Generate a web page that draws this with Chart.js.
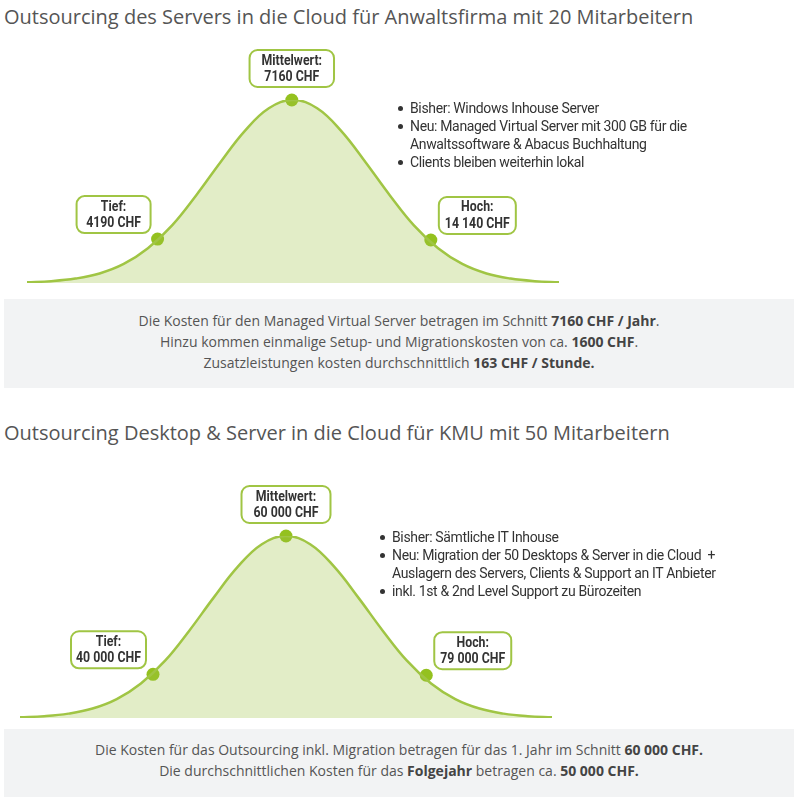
<!DOCTYPE html>
<html lang="de">
<head>
<meta charset="UTF-8">
<title>Outsourcing Kosten</title>
<style>
    body { margin: 0; width: 800px; height: 806px; position: relative; background: #fff; font-family: "Open Sans", sans-serif; }
    .title { position: absolute; left: 4px; font-size: 20px; color: #555; white-space: nowrap; }
    .chartBox { position: absolute; left: 0; width: 570px; height: 260px; }
    .list { position: absolute; margin: 0; padding: 0; list-style: none; font-family: Roboto, sans-serif; font-size: 14px; letter-spacing: -0.35px; color: #333; line-height: 18px; }
    .list li { position: relative; padding-left: 12px; }
    .list li::before { content: ""; position: absolute; left: 0; top: 7px; width: 5px; height: 5px; border-radius: 50%; background: #333; }
    .info { position: absolute; left: 4px; width: 790px; background: #f2f3f4; text-align: center; color: #555; font-size: 14px; line-height: 21px; }
    .info b { color: #444; font-weight: 700; }
</style>
</head>
<body>
<div class="title" style="top:3px">Outsourcing des Servers in die Cloud für Anwaltsfirma mit 20 Mitarbeitern</div>
<div class="chartBox" style="top:40px"><canvas id="chart1"></canvas></div>
<ul class="list" style="left:398px;top:99px;width:300px">
    <li>Bisher: Windows Inhouse Server</li>
    <li>Neu: Managed Virtual Server mit 300 GB für die Anwaltssoftware &amp; Abacus Buchhaltung</li>
    <li>Clients bleiben weiterhin lokal</li>
</ul>
<div class="info" style="top:299px;height:89px">
    <div style="padding-top:11px">Die Kosten für den Managed Virtual Server betragen im Schnitt <b>7160 CHF / Jahr</b>.<br>
    Hinzu kommen einmalige Setup- und Migrationskosten von ca. <b>1600 CHF</b>.<br>
    Zusatzleistungen kosten durchschnittlich <b>163 CHF / Stunde.</b></div>
</div>

<div class="title" style="top:419px">Outsourcing Desktop &amp; Server in die Cloud für KMU mit 50 Mitarbeitern</div>
<div class="chartBox" style="top:470px"><canvas id="chart2"></canvas></div>
<ul class="list" style="left:380px;top:528px;width:360px">
    <li>Bisher: Sämtliche IT Inhouse</li>
    <li>Neu: Migration der 50 Desktops &amp; Server in die Cloud&nbsp; + Auslagern des Servers, Clients &amp; Support an IT Anbieter</li>
    <li>inkl. 1st &amp; 2nd Level Support zu Bürozeiten</li>
</ul>
<div class="info" style="top:729px;height:68px">
    <div style="padding-top:10px">Die Kosten für das Outsourcing inkl. Migration betragen für das 1. Jahr im Schnitt <b>60 000 CHF.</b><br>
    Die durchschnittlichen Kosten für das <b>Folgejahr</b> betragen ca. <b>50 000 CHF.</b></div>
</div>

<script src="https://cdn.jsdelivr.net/npm/chart.js"></script>
<script>
// curve steps (position along the distribution) and heights in % of the peak
const steps = [-11, -10, -9, -8, -7, -6, -5, -4, -3, -2, -1, 0, 1, 2, 3, 4, 5, 6, 7, 8, 9, 10, 11];
const curve1 = [0.4, 1, 2.4, 5.2, 10.4, 19, 31.5, 48, 66, 83, 95.5, 100, 95.5, 83, 66, 48, 31.5, 19, 10.4, 5.2, 2.4, 1, 0.4];
const curve2 = [0.4, 1, 2.4, 5.2, 10.4, 19, 31.5, 48, 66, 83, 95.5, 100, 95.5, 83, 66, 48, 31.5, 19, 10.4, 5.2, 2.4, 1, 0.4];

// marked points: Tief, Mittelwert, Hoch
const markX1 = [-5.6, -0.05, 5.7];
const markY1 = [24, 100, 23.5];
const markText1 = [['Tief:', '4190 CHF'], ['Mittelwert:', '7160 CHF'], ['Hoch:', '14 140 CHF']];

const markX2 = [-5.5, 0, 5.8];
const markY2 = [24, 100, 23.5];
const markText2 = [['Tief:', '40 000 CHF'], ['Mittelwert:', '60 000 CHF'], ['Hoch:', '79 000 CHF']];

const green = '#a0c544';
const dotGreen = '#94c11f';

// draws the rounded label boxes next to the marked points
const boxLabels = {
    id: 'boxLabels',
    afterDatasetsDraw(chart, args, opts) {
        const ctx = chart.ctx;
        const meta = chart.getDatasetMeta(1);
        meta.data.forEach((pt, i) => {
            const lines = opts.texts[i];
            ctx.save();
            ctx.font = 'bold 14px Roboto';
            const sx = 0.88;
            const tw = Math.max(...lines.map(l => ctx.measureText(l).width)) * sx;
            let w, h = 39, x, y;
            if (i === 1) {
                w = tw + 26;
                x = pt.x - w / 2;
                y = pt.y - 12 - h;
            } else if (i === 0) {
                w = Math.max(tw + 12, 76);
                x = pt.x - 6 - w;
                y = pt.y - 5 - h;
            } else {
                w = Math.max(tw + 14, 78);
                x = pt.x + 7;
                y = pt.y - 5 - h;
            }
            ctx.beginPath();
            ctx.roundRect(x + 1, y + 1, w - 2, h - 2, 8);
            ctx.fillStyle = '#fff';
            ctx.fill();
            ctx.lineWidth = 2;
            ctx.strokeStyle = green;
            ctx.stroke();
            ctx.fillStyle = '#333';
            ctx.textAlign = 'center';
            ctx.textBaseline = 'middle';
            ctx.translate(x + w / 2, y);
            ctx.scale(sx, 1);
            ctx.fillText(lines[0], 0, 12);
            ctx.fillText(lines[1], 0, 28.5);
            ctx.restore();
        });
    }
};

function makeChart(id, curve, mx, my, texts, pad) {
    return new Chart(document.getElementById(id), {
        type: 'line',
        data: {
            datasets: [{
                data: steps.map((s, i) => ({ x: s, y: curve[i] })),
                borderColor: green,
                borderWidth: 2.5,
                backgroundColor: 'rgba(160,197,68,0.3)',
                fill: 'origin',
                tension: 0.4,
                pointRadius: 0
            }, {
                type: 'scatter',
                data: mx.map((x, i) => ({ x: x, y: my[i] })),
                pointRadius: 6.5,
                pointBackgroundColor: dotGreen,
                pointBorderWidth: 0,
                clip: false
            }]
        },
        options: {
            responsive: true,
            maintainAspectRatio: false,
            animation: false,
            layout: { padding: pad },
            scales: {
                x: { type: 'linear', min: -11, max: 11, display: false },
                y: { min: 0, max: 100, display: false }
            },
            plugins: {
                legend: { display: false },
                tooltip: { enabled: false },
                boxLabels: { texts: texts }
            }
        },
        plugins: [boxLabels]
    });
}

makeChart('chart1', curve1, markX1, markY1, markText1, { left: 27, right: 11, top: 60, bottom: 17 });
makeChart('chart2', curve2, markX2, markY2, markText2, { left: 20, right: 18, top: 66, bottom: 12 });
</script>
</body>
</html>
